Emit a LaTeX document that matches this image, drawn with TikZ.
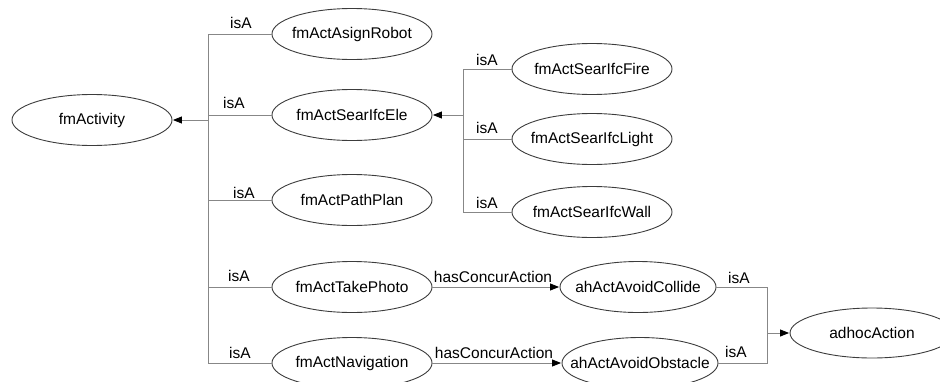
\documentclass[tikz,border=0pt]{standalone}
\usepackage{fontspec}
\setmainfont{Liberation Sans}
\usetikzlibrary{shapes.geometric,arrows.meta}
\definecolor{edgecol}{RGB}{135,135,135}
\definecolor{ellcol}{RGB}{60,60,60}
\newcommand\ctext[1]{\makebox[0pt][c]{#1}}
\begin{document}
\begin{tikzpicture}[x=1pt,y=-1pt,
  every node/.style={font=\fontsize{15.5}{18}\selectfont},
  ent/.style={ellipse, draw=ellcol, line width=0.9pt, minimum width=160pt, minimum height=51pt, inner sep=0pt},
  edge/.style={draw=edgecol, line width=0.9pt},
  arr/.style={edge, -{Triangle[length=9pt,width=7pt,color=black]}, shorten >=0.5pt},
  lbl/.style={inner sep=0pt}]
\useasboundingbox (0,0) rectangle (940,381);

% classes
\node[ent] (act)   at (92,120)  {\ctext{fmActivity}};
\node[ent] (asign) at (352,34)  {\ctext{fmActAsignRobot}};
\node[ent] (ele)   at (352,115) {\ctext{fmActSearIfcEle}};
\node[ent] (plan)  at (352,200) {\ctext{fmActPathPlan}};
\node[ent] (photo) at (352,287) {\ctext{fmActTakePhoto}};
\node[ent] (nav)   at (352,363) {\ctext{fmActNavigation}};
\node[ent] (fire)  at (592,69)  {\ctext{fmActSearIfcFire}};
\node[ent] (light) at (592,139) {\ctext{fmActSearIfcLight}};
\node[ent] (wall)  at (592,212) {\ctext{fmActSearIfcWall}};
\node[ent, minimum width=156pt] (collide)  at (638,287) {\ctext{ahActAvoidCollide}};
\node[ent, minimum width=156pt] (obstacle) at (640,363) {\ctext{ahActAvoidObstacle}};
\node[ent, minimum width=164pt, minimum height=50pt] (adhoc) at (872,333) {\ctext{adhocAction}};

% junction columns
\coordinate (j1) at (208,0);
\coordinate (j2) at (463,0);
\coordinate (j3) at (767,0);
\coordinate (j3m) at (767,333);

% isA tree under fmActivity
\draw[edge] (asign.west) -- (asign.west -| j1) -- (nav.west -| j1) -- (nav.west);
\draw[edge] (ele.west) -- (ele.west -| j1);
\draw[edge] (plan.west) -- (plan.west -| j1);
\draw[edge] (photo.west) -- (photo.west -| j1);
\draw[arr] (act.east -| j1) -- (act.east);

% isA tree under fmActSearIfcEle
\draw[edge] (fire.west) -- (fire.west -| j2) -- (wall.west -| j2) -- (wall.west);
\draw[edge] (light.west) -- (light.west -| j2);
\draw[arr] (ele.east -| j2) -- (ele.east);

% isA tree under adhocAction
\draw[edge] (collide.east) -- (collide.east -| j3) -- (obstacle.east -| j3) -- (obstacle.east);
\draw[arr] (j3m) -- (adhoc.west);

% concurrent actions
\draw[arr] (photo.east) -- (collide.west);
\draw[arr] (nav.east) -- (obstacle.west);

% edge labels
\node[lbl] (l1)  at (241,23)  {isA};
\node[lbl] (l2)  at (234,103) {isA};
\node[lbl] (l3)  at (244,193) {isA};
\node[lbl] (l4)  at (239,276) {isA};
\node[lbl] (l5)  at (240,353) {isA};
\node[lbl] (l6)  at (487,60)  {isA};
\node[lbl] (l7)  at (487,128) {isA};
\node[lbl] (l8)  at (487,203) {isA};
\node[lbl] (l9)  at (739,278) {isA};
\node[lbl] (l10) at (736,352) {isA};
\node[lbl] (c1)  at (493,277) {hasConcurAction};
\node[lbl] (c2)  at (494,353) {hasConcurAction};
\end{tikzpicture}
\end{document}
